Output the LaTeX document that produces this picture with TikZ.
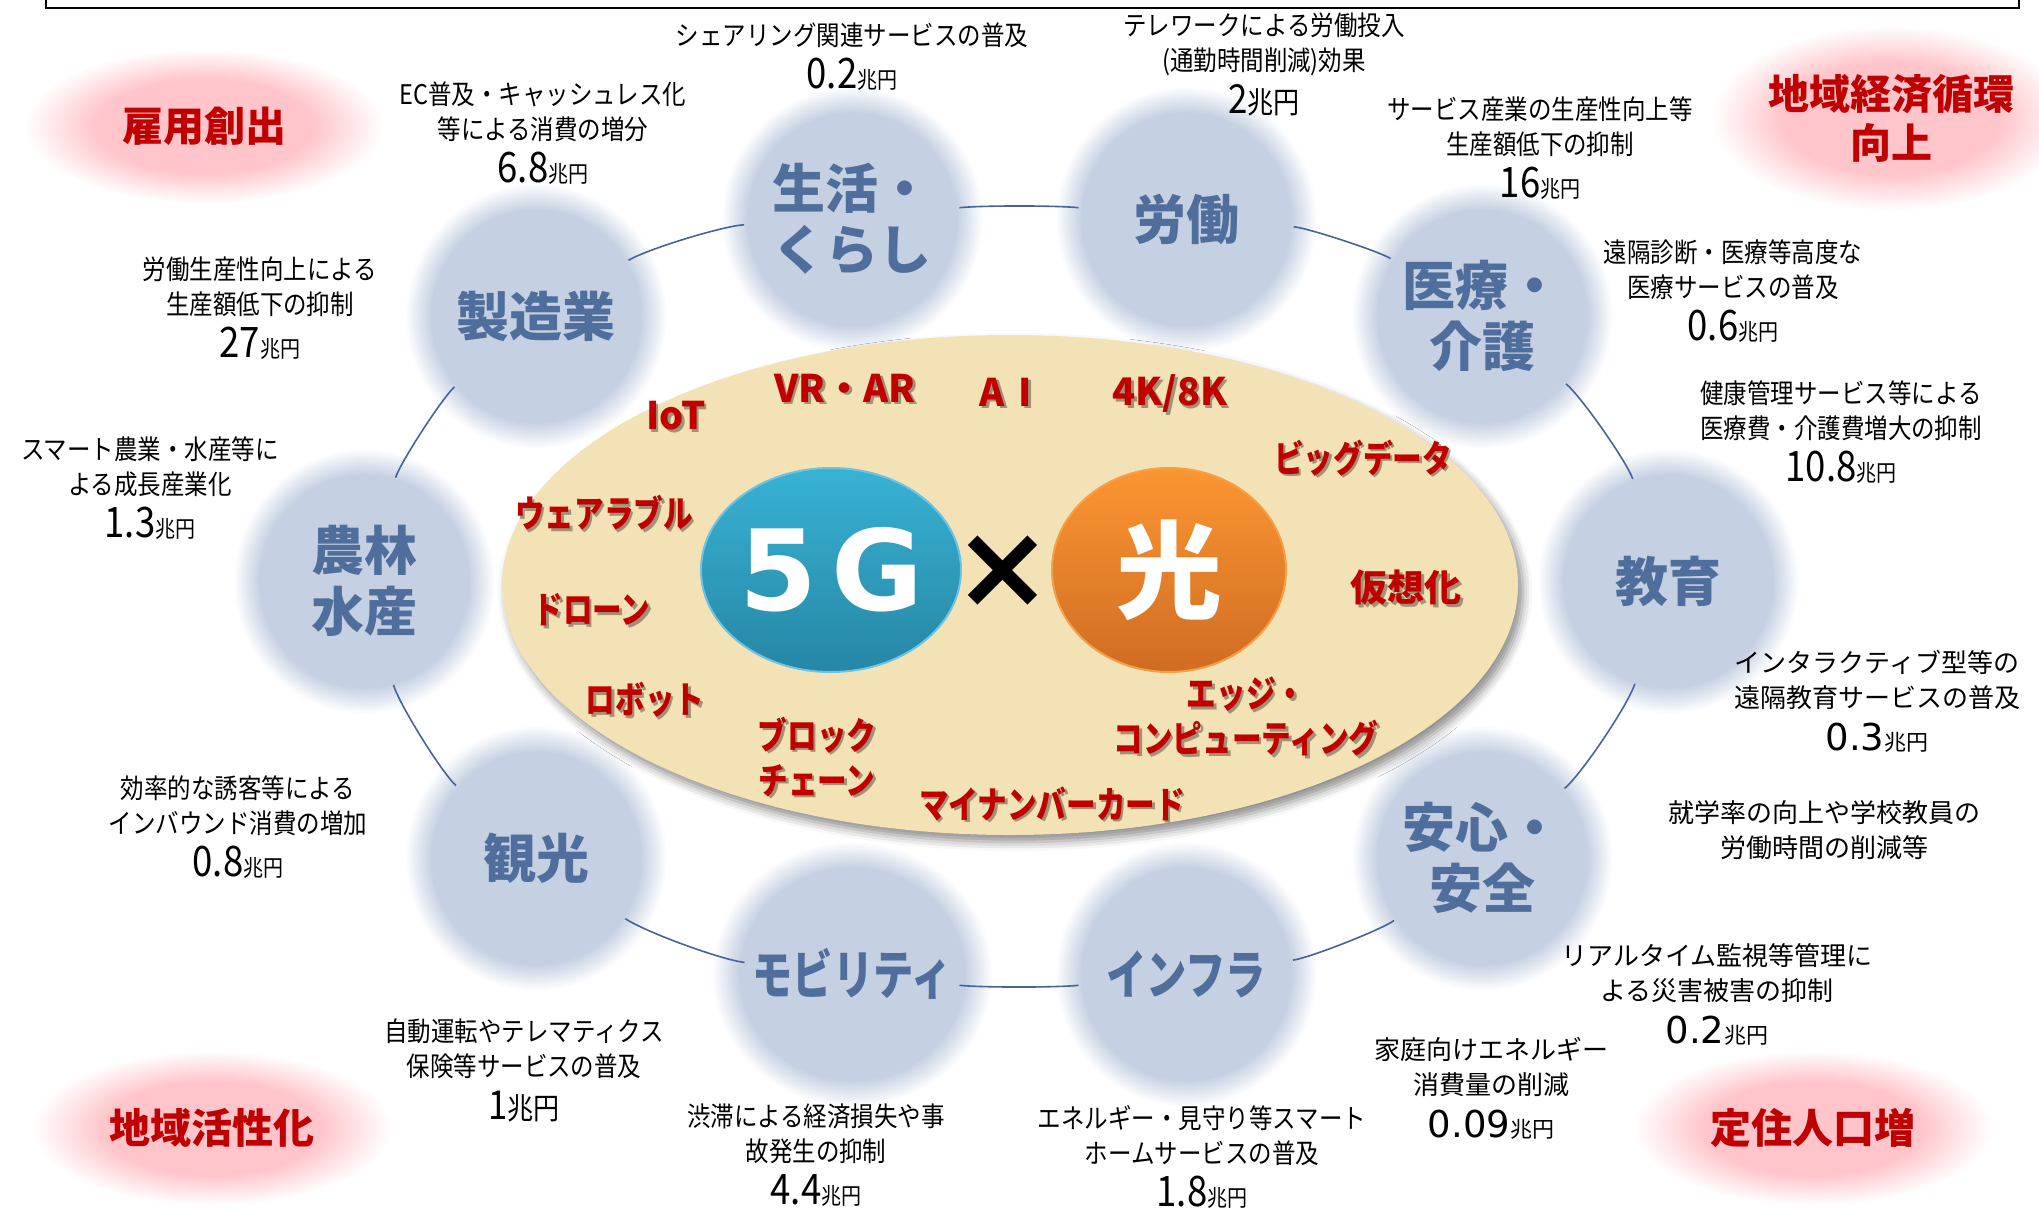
\documentclass[tikz,border=0pt]{standalone}
\usepackage{fontspec}
\setmainfont{Noto Sans CJK JP}
\newfontfamily\jp{Noto Sans CJK JP}
\newfontfamily\jpc{Noto Sans CJK JP}[FakeStretch=0.87]
\newfontfamily\jpr{Noto Sans CJK JP}[FakeStretch=0.8]
\newfontfamily\jpk{Noto Sans CJK JP}[FakeStretch=0.76]
\newfontfamily\dvs{DejaVu Sans}
\usetikzlibrary{shapes.geometric,shadows.blur}
\definecolor{circ}{RGB}{197,209,227}
\definecolor{circtext}{RGB}{80,110,155}
\definecolor{pinkc}{RGB}{255,197,202}
\definecolor{redtext}{RGB}{192,0,0}
\definecolor{beige}{RGB}{243,226,181}
\definecolor{conn}{RGB}{70,100,150}
\definecolor{gtop}{RGB}{56,178,212}
\definecolor{gbot}{RGB}{38,134,165}
\definecolor{gedge}{RGB}{110,195,225}
\definecolor{htop}{RGB}{252,150,50}
\definecolor{hbot}{RGB}{208,108,35}
\definecolor{hedge}{RGB}{245,160,70}
\pgfdeclareradialshading{bluefade}{\pgfpoint{0bp}{0bp}}{color(0bp)=(circ); color(20bp)=(circ); color(25bp)=(white); color(50bp)=(white)}
\pgfdeclareradialshading{pinkfade}{\pgfpoint{0bp}{0bp}}{color(0bp)=(pinkc); color(15bp)=(pinkc); color(25bp)=(white); color(50bp)=(white)}
\newcommand\myfs[2]{\fontsize{#1}{#2}\selectfont}
\newcommand\numc[1]{{\jpc\myfs{42}{42}#1}{\jpc\myfs{23}{23}兆円}}
\newcommand\numw[1]{{\dvs\myfs{37}{37}#1}{\jp\myfs{22}{22}兆円}}
\newcommand\kwd[4]{\node[#3,text=black,opacity=0.35,xshift=2.5pt,yshift=-2.5pt] (#1s) at (#2) {#4};\node[#3] (#1) at (#2) {#4};}
\tikzset{
  bubble/.style={ellipse, shade, shading=bluefade, minimum width=262pt, minimum height=266pt, inner sep=0pt,
    font=\jp\bfseries\myfs{53}{61}, text=circtext, align=center},
  goal/.style={ellipse, shade, shading=pinkfade, minimum width=360pt, minimum height=155pt, inner sep=0pt,
    font=\jp\bfseries\myfs{41}{49}, text=redtext, align=center},
  desc/.style={font=\jpc\myfs{27}{35}, align=center, inner sep=0pt, anchor=north},
  descw/.style={font=\jp\myfs{26}{35}, align=center, inner sep=0pt, anchor=north},
  kw/.style={font=\jpr\bfseries\myfs{37}{45}, text=redtext, align=center, inner sep=0pt},
  kwk/.style={font=\jp\bfseries\myfs{37}{45}, text=redtext, align=center, inner sep=0pt},
  kwl/.style={font=\jp\bfseries\myfs{38}{45}, text=redtext, inner sep=0pt},
  link/.style={draw=conn, line width=1.6pt, shorten <=108pt, shorten >=108pt},
  corebox/.style={ellipse, fill=beige, minimum width=1016pt, minimum height=500pt,
    blur shadow={shadow xshift=5pt, shadow yshift=-7pt, shadow blur radius=9pt, shadow opacity=45}},
  gfive/.style={ellipse, top color=gtop, bottom color=gbot, draw=gedge, line width=2pt,
    minimum width=234pt, minimum height=204pt, inner sep=0pt, text=white, font=\dvs\bfseries\myfs{112}{112}},
  hikari/.style={ellipse, top color=htop, bottom color=hbot, draw=hedge, line width=2pt,
    minimum width=234pt, minimum height=204pt, inner sep=0pt, text=white, font=\jp\bfseries\myfs{106}{106}}
}
\begin{document}
\begin{tikzpicture}[x=1pt,y=-1pt]
\useasboundingbox (0,0) rectangle (2039,1210);
\draw[line width=2pt] (46,-10) -- (46,8) -- (2019,8) -- (2019,-10);

% goals
\node[goal] (koyo) at (204,126) {雇用創出};
\node[goal, minimum height=185pt] (junkan) at (1891,118) {地域経済循環\\向上};
\node[goal] (kassei) at (212,1128) {地域活性化};
\node[goal] (teiju) at (1813,1128) {定住人口増};

% bubbles
\node[bubble] (manu)  at (536,316) {製造業};
\node[bubble] (life)  at (852,219) {生活・\\くらし};
\node[bubble] (labor) at (1186,219) {労働};
\node[bubble] (med)   at (1482,316) {医療・\\介護};
\node[bubble] (edu)   at (1668,581) {教育};
\node[bubble] (safe)  at (1482,858) {安心・\\安全};
\node[bubble, font=\jpk\bfseries\myfs{53}{61}] (infra) at (1186,974) {インフラ};
\node[bubble, font=\jpk\bfseries\myfs{53}{61}] (mob)   at (852,974) {モビリティ};
\node[bubble] (tour)  at (536,858) {観光};
\node[bubble] (agri)  at (364,581) {農林\\水産};

% connectors
\draw[link] (manu.center) to[bend left=14] (life.center);
\draw[link] (life.center) to[bend left=6] (labor.center);
\draw[link] (labor.center) to[bend left=14] (med.center);
\draw[link] (med.center) to[bend left=16] (edu.center);
\draw[link] (edu.center) to[bend left=16] (safe.center);
\draw[link] (safe.center) to[bend left=14] (infra.center);
\draw[link] (infra.center) to[bend left=6] (mob.center);
\draw[link] (mob.center) to[bend left=14] (tour.center);
\draw[link] (tour.center) to[bend left=16] (agri.center);
\draw[link] (agri.center) to[bend left=16] (manu.center);

% core
\node[corebox] (core) at (1010,585) {};
\node[gfive] (g5) at (831,570) {5\kern14pt G};
\node[hikari] (hk) at (1169,570) {光};
\node[font=\dvs\bfseries\myfs{118}{118}, inner sep=0pt] (times) at (1003,572) {×};

% keywords
\kwd{iot}{676,416}{kwl}{IoT}
\kwd{vrar}{845,388}{kwl}{VR・AR}
\kwd{ai}{1006,392}{kwl}{A\hspace{14pt}I}
\kwd{kk}{1170,394}{kwl}{4K/8K}
\kwd{big}{1363,458}{kw}{ビッグデータ}
\kwd{wear}{604,513}{kw}{ウェアラブル}
\kwd{virt}{1406,588}{kwk}{仮想化}
\kwd{drone}{592,610}{kw}{ドローン}
\kwd{robot}{645,700}{kw}{ロボット}
\kwd{block}{817,757}{kw}{ブロック\\チェーン}
\kwd{edge}{1246,717}{kw}{エッジ・\\コンピューティング}
\kwd{mynum}{1052,804}{kw}{マイナンバーカード}

% descriptions
\node[desc] (da) at (852,23) {シェアリング関連サービスの普及\\[8pt]\numc{0.2}};
\node[desc] (db) at (543,82) {EC普及・キャッシュレス化\\等による消費の増分\\[8pt]\numc{6.8}};
\node[desc] (dc) at (1264,13) {テレワークによる労働投入\\(通勤時間削減)効果\\[8pt]{\myfs{40}{40}2}{\myfs{30}{30}兆円}};
\node[desc] (dd) at (1540,96) {サービス産業の生産性向上等\\生産額低下の抑制\\[8pt]\numc{16}};
\node[desc] (de) at (260,257) {労働生産性向上による\\生産額低下の抑制\\[8pt]\numc{27}};
\node[desc] (df) at (1733,239) {遠隔診断・医療等高度な\\医療サービスの普及\\[8pt]\numc{0.6}};
\node[desc] (dg) at (1841,380) {健康管理サービス等による\\医療費・介護費増大の抑制\\[8pt]\numc{10.8}};
\node[desc] (dh) at (150,436) {スマート農業・水産等に\\よる成長産業化\\[8pt]\numc{1.3}};
\node[descw] (di) at (1877,650) {インタラクティブ型等の\\遠隔教育サービスの普及\\[8pt]\numw{0.3}};
\node[descw] (dj) at (1824,800) {就学率の向上や学校教員の\\労働時間の削減等};
\node[desc] (dk) at (238,775) {効率的な誘客等による\\インバウンド消費の増加\\[8pt]\numc{0.8}};
\node[descw] (dl) at (1717,943) {リアルタイム監視等管理に\\よる災害被害の抑制\\[8pt]\numw{0.2}};
\node[desc] (dm) at (524,1019) {自動運転やテレマティクス\\保険等サービスの普及\\[8pt]{\myfs{40}{40}1}{\myfs{30}{30}兆円}};
\node[descw] (dn) at (1491,1037) {家庭向けエネルギー\\消費量の削減\\[8pt]\numw{0.09}};
\node[desc] (do) at (816,1104) {渋滞による経済損失や事\\故発生の抑制\\[8pt]\numc{4.4}};
\node[desc] (dp) at (1202,1105) {エネルギー・見守り等スマート\\ホームサービスの普及\\[8pt]\numc{1.8}};
\end{tikzpicture}
\end{document}
